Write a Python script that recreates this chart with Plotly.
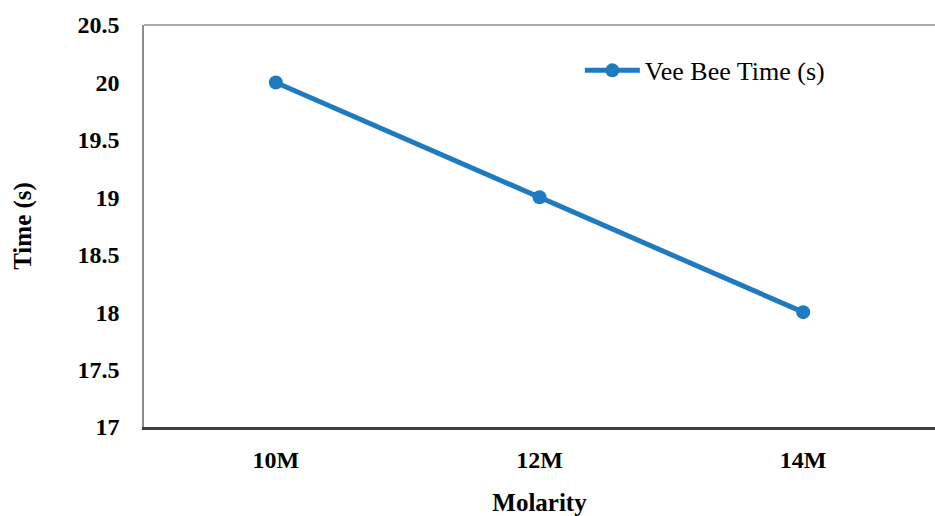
import plotly.graph_objects as go

categories = ["10M", "12M", "14M"]
vee_bee_time = [20, 19, 18]
series_name = "Vee Bee Time (s)"
y_ticks = [17, 17.5, 18, 18.5, 19, 19.5, 20, 20.5]
y_tick_labels = ["17", "17.5", "18", "18.5", "19", "19.5", "20", "20.5"]

font_family = "Liberation Serif, Times New Roman, serif"
blue = "#1f7bc0"

fig = go.Figure()
fig.add_trace(go.Scatter(
    x=categories, y=vee_bee_time, name=series_name,
    mode="lines+markers",
    line=dict(color=blue, width=5),
    marker=dict(color=blue, size=14),
))

fig.update_layout(
    width=935, height=516,
    margin=dict(l=144, r=0, t=25, b=89),
    paper_bgcolor="white", plot_bgcolor="white",
    font=dict(family=font_family, color="black"),
    showlegend=True,
    legend=dict(x=0.551, y=0.887, xanchor="left", yanchor="middle",
                itemwidth=55,
                font=dict(family=font_family, size=26, color="black"),
                bgcolor="rgba(0,0,0,0)"),
    shapes=[dict(type="line", xref="paper", yref="paper", x0=0, x1=1, y0=1, y1=1,
                 line=dict(color="#8c8c8c", width=1.5))],
)
fig.update_xaxes(
    type="category", range=[-0.5, 2.5],
    showgrid=False, zeroline=False,
    showline=True, linecolor="#404040", linewidth=2.5,
    ticks="", ticklabelstandoff=9,
    tickfont=dict(family=font_family, size=24, color="black", weight="bold"),
    title=dict(text="<b>Molarity</b>", font=dict(family=font_family, size=25, color="black"), standoff=23),
)
fig.update_yaxes(
    range=[17, 20.5], tickvals=y_ticks, ticktext=y_tick_labels,
    showgrid=False, zeroline=False,
    showline=True, linecolor="#8c8c8c", linewidth=1.5,
    ticks="", ticklabelstandoff=18,
    tickfont=dict(family=font_family, size=24, color="black", weight="bold"),
    title=dict(text="<b>Time (s)</b>", font=dict(family=font_family, size=25, color="black"), standoff=39),
)

fig.write_html("out.html", config={"displayModeBar": False},
               post_script="document.body.style.margin='0';document.body.style.overflow='hidden';")
